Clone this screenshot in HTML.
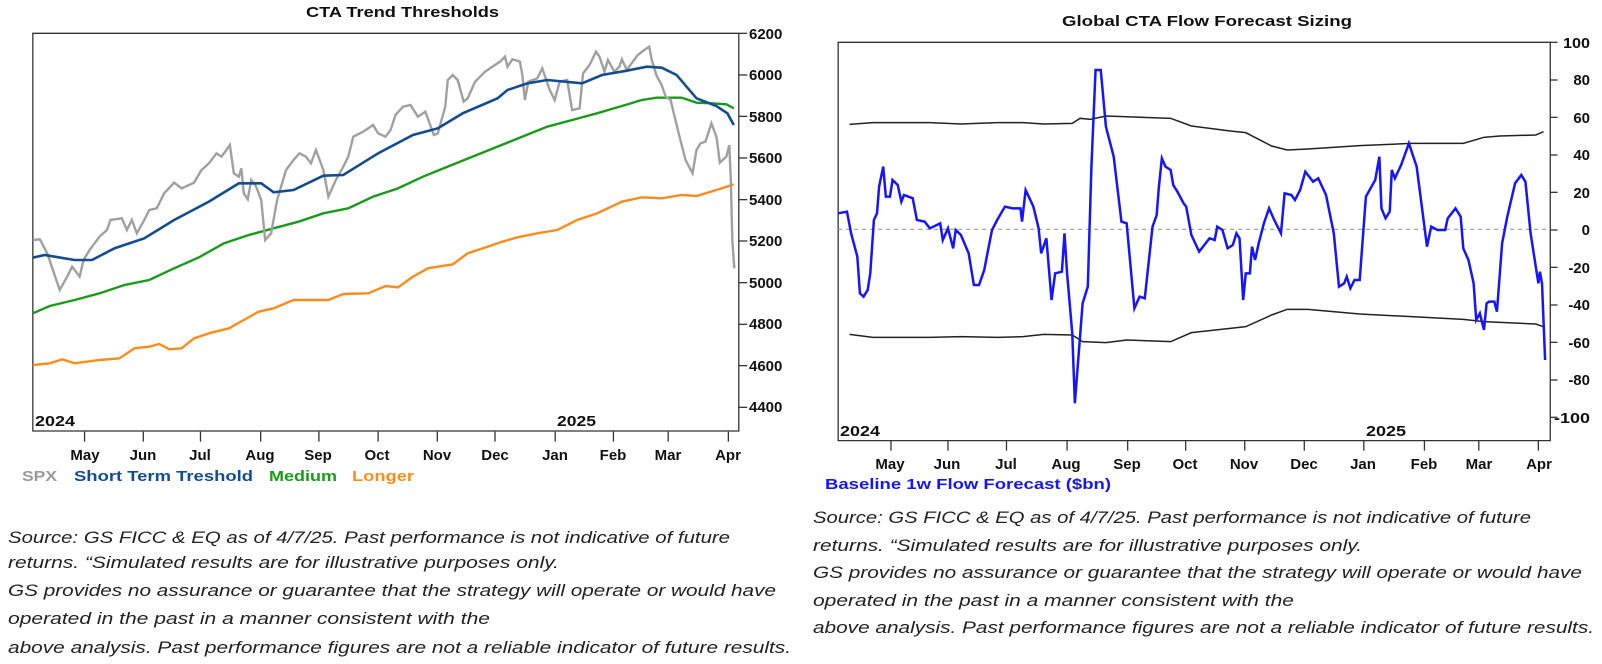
<!DOCTYPE html>
<html><head><meta charset="utf-8"><style>
html,body{margin:0;padding:0;background:#fff;}
svg{display:block;}
.t{font-family:"Liberation Sans Narrow","Liberation Sans",sans-serif;font-weight:bold;font-size:15px;fill:#111;}
.c{font-family:"Liberation Sans Narrow","Liberation Sans",sans-serif;font-style:italic;font-size:17px;fill:#222;}
path,polyline,line,rect{vector-effect:non-scaling-stroke;}
</style></head><body>
<svg width="1602" height="664" viewBox="0 0 1602 664" xmlns="http://www.w3.org/2000/svg">
<rect width="1602" height="664" fill="#fff"/>

<g transform="scale(0.4975,0.33333)" fill="none">
<rect x="66" y="100" width="1419" height="1193" stroke="#333" stroke-width="1.3"/>
<g stroke="#333" stroke-width="1.3">
<line x1="1485" y1="100" x2="1502" y2="100"/><line x1="1485" y1="225" x2="1502" y2="225"/><line x1="1485" y1="349" x2="1502" y2="349"/><line x1="1485" y1="474" x2="1502" y2="474"/><line x1="1485" y1="599" x2="1502" y2="599"/><line x1="1485" y1="723" x2="1502" y2="723"/><line x1="1485" y1="848" x2="1502" y2="848"/><line x1="1485" y1="973" x2="1502" y2="973"/><line x1="1485" y1="1097" x2="1502" y2="1097"/><line x1="1485" y1="1222" x2="1502" y2="1222"/>
<line x1="170" y1="1295" x2="170" y2="1325"/><line x1="288" y1="1295" x2="288" y2="1325"/><line x1="403" y1="1295" x2="403" y2="1325"/><line x1="524" y1="1295" x2="524" y2="1325"/><line x1="641" y1="1295" x2="641" y2="1325"/><line x1="760" y1="1295" x2="760" y2="1325"/><line x1="879" y1="1295" x2="879" y2="1325"/><line x1="995" y1="1295" x2="995" y2="1325"/><line x1="1116" y1="1295" x2="1116" y2="1325"/><line x1="1233" y1="1295" x2="1233" y2="1325"/><line x1="1343" y1="1295" x2="1343" y2="1325"/><line x1="1464" y1="1295" x2="1464" y2="1325"/>
</g>
<polyline stroke="#ff8c1a" stroke-width="2.4" points="66,1095 100,1090 125,1078 150,1090 200,1080 240,1075 270,1045 300,1040 320,1032 340,1048 365,1045 390,1015 420,1000 460,985 490,960 520,935 550,925 590,900 660,900 690,882 740,880 775,858 800,862 830,830 860,805 880,800 910,793 940,760 970,745 1010,725 1040,712 1080,700 1120,690 1160,660 1200,640 1250,605 1290,592 1330,595 1370,585 1400,588 1440,570 1475,553"/>
<polyline stroke="#1a9a1a" stroke-width="2.4" points="66,940 100,918 150,900 200,880 250,855 300,840 350,805 400,772 450,730 500,705 550,685 600,665 650,640 700,625 750,590 800,565 850,530 900,500 950,470 1000,440 1050,410 1100,380 1150,360 1200,340 1250,318 1290,300 1320,293 1370,293 1400,308 1430,310 1460,313 1475,325"/>
<polyline stroke="#a0a0a0" stroke-width="2.4" points="66,720 80,718 95,760 120,870 135,830 145,800 160,830 168,780 180,750 200,710 215,690 222,660 245,655 255,690 265,660 275,700 290,660 300,630 315,625 330,580 350,548 365,565 380,555 390,548 405,510 420,490 435,460 445,470 455,450 462,435 470,520 480,530 485,505 490,580 498,598 505,540 515,560 525,600 533,720 545,700 557,600 575,510 590,480 602,460 615,470 625,490 635,450 650,510 660,590 675,540 690,500 700,470 710,410 730,395 750,375 760,400 775,410 785,390 795,345 810,320 825,315 840,350 855,335 872,405 880,400 895,320 900,240 910,225 920,240 932,305 940,295 955,245 975,215 990,200 1005,185 1015,170 1020,200 1030,178 1045,185 1050,225 1055,300 1062,245 1080,235 1090,205 1105,270 1115,300 1125,245 1140,240 1150,330 1165,325 1172,220 1185,195 1198,155 1205,170 1215,215 1222,180 1235,215 1245,200 1250,178 1260,210 1272,185 1282,165 1295,150 1305,140 1310,180 1320,228 1330,255 1338,290 1348,300 1356,350 1365,405 1378,480 1392,520 1400,450 1408,430 1418,425 1430,370 1440,410 1447,488 1460,470 1466,435 1469,540 1472,720 1476,805"/>
<polyline stroke="#124d8f" stroke-width="2.6" points="66,773 90,765 110,770 150,780 185,780 230,745 290,715 350,660 420,605 480,550 525,550 550,577 590,570 650,527 690,525 760,460 830,405 880,385 930,340 1000,295 1020,270 1060,250 1100,240 1170,250 1210,225 1260,212 1300,200 1330,203 1360,225 1400,295 1440,318 1462,340 1475,375"/>
</g>
<g class="t">
<text x="306" y="17" textLength="193" lengthAdjust="spacingAndGlyphs">CTA Trend Thresholds</text>
<text x="749" y="39">6200</text><text x="749" y="80">6000</text><text x="749" y="122">5800</text><text x="749" y="163">5600</text><text x="749" y="205">5400</text><text x="749" y="246">5200</text><text x="749" y="288">5000</text><text x="749" y="329">4800</text><text x="749" y="371">4600</text><text x="749" y="412">4400</text>
<text x="35" y="426" textLength="40" lengthAdjust="spacingAndGlyphs">2024</text>
<text x="557" y="426" textLength="39" lengthAdjust="spacingAndGlyphs">2025</text>
<g text-anchor="middle"><text x="85" y="460">May</text><text x="143" y="460">Jun</text><text x="200" y="460">Jul</text><text x="260" y="460">Aug</text><text x="318" y="460">Sep</text><text x="377" y="460">Oct</text><text x="437" y="460">Nov</text><text x="495" y="460">Dec</text><text x="555" y="460">Jan</text><text x="613" y="460">Feb</text><text x="668" y="460">Mar</text><text x="728" y="460">Apr</text></g>
<text x="22" y="481" fill="#999" textLength="35" lengthAdjust="spacingAndGlyphs">SPX</text>
<text x="74" y="481" fill="#124d8f" textLength="179" lengthAdjust="spacingAndGlyphs">Short Term Treshold</text>
<text x="269" y="481" fill="#1a9a1a" textLength="68" lengthAdjust="spacingAndGlyphs">Medium</text>
<text x="352" y="481" fill="#ff8c1a" textLength="62" lengthAdjust="spacingAndGlyphs">Longer</text>
</g>

<g transform="translate(790,0) scale(0.5179,0.33333)" fill="none">
<rect x="93" y="127" width="1375" height="1195" stroke="#333" stroke-width="1.3"/>
<line x1="93" y1="688" x2="1468" y2="688" stroke="#999" stroke-width="1.2" stroke-dasharray="4,4"/>
<g stroke="#333" stroke-width="1.3">
<line x1="1468" y1="127" x2="1482" y2="127"/><line x1="1468" y1="240" x2="1482" y2="240"/><line x1="1468" y1="352" x2="1482" y2="352"/><line x1="1468" y1="465" x2="1482" y2="465"/><line x1="1468" y1="577" x2="1482" y2="577"/><line x1="1468" y1="690" x2="1482" y2="690"/><line x1="1468" y1="802" x2="1482" y2="802"/><line x1="1468" y1="915" x2="1482" y2="915"/><line x1="1468" y1="1027" x2="1482" y2="1027"/><line x1="1468" y1="1140" x2="1482" y2="1140"/><line x1="1468" y1="1252" x2="1482" y2="1252"/>
<line x1="195" y1="1322" x2="195" y2="1352"/><line x1="305" y1="1322" x2="305" y2="1352"/><line x1="418" y1="1322" x2="418" y2="1352"/><line x1="535" y1="1322" x2="535" y2="1352"/><line x1="652" y1="1322" x2="652" y2="1352"/><line x1="764" y1="1322" x2="764" y2="1352"/><line x1="878" y1="1322" x2="878" y2="1352"/><line x1="993" y1="1322" x2="993" y2="1352"/><line x1="1108" y1="1322" x2="1108" y2="1352"/><line x1="1225" y1="1322" x2="1225" y2="1352"/><line x1="1330" y1="1322" x2="1330" y2="1352"/><line x1="1445" y1="1322" x2="1445" y2="1352"/>
</g>
<polyline stroke="#222" stroke-width="1.5" points="115,373 160,368 270,368 330,372 400,368 450,368 490,372 545,370 560,355 580,358 610,348 735,355 775,378 850,393 880,398 930,438 960,450 1000,447 1100,437 1200,430 1300,430 1340,412 1370,408 1440,405 1455,395"/>
<polyline stroke="#222" stroke-width="1.5" points="115,1003 160,1012 270,1012 330,1010 400,1012 450,1010 490,1003 545,1005 565,1025 610,1028 650,1020 735,1025 775,998 850,985 880,980 930,945 960,928 1000,928 1100,942 1200,950 1300,958 1340,965 1440,972 1455,980"/>
<polyline stroke="#1515ff" stroke-width="2.5" points="93,640 110,635 118,700 130,770 135,880 142,890 150,870 155,820 162,660 168,640 172,560 180,500 185,590 193,590 198,540 208,555 215,605 220,585 237,595 245,660 260,665 270,685 290,670 295,720 305,685 315,745 320,690 330,705 345,760 355,855 365,855 375,810 390,690 400,660 415,620 430,625 445,625 448,665 455,570 470,620 480,685 485,760 495,715 505,900 512,820 525,815 530,700 535,820 545,1000 550,1210 558,1050 565,910 575,860 582,500 590,210 600,210 610,380 625,470 635,600 640,665 650,670 665,925 675,890 685,895 700,680 708,645 712,565 718,475 725,500 735,510 740,555 748,575 760,610 765,620 775,705 790,755 800,735 810,715 820,720 825,680 835,690 845,745 855,735 862,700 868,715 875,900 880,820 888,820 892,740 898,780 905,730 915,670 925,625 935,660 948,700 955,580 968,585 975,600 985,570 995,515 1010,545 1020,535 1035,585 1050,700 1060,860 1070,850 1075,830 1082,865 1090,840 1100,840 1112,590 1130,540 1138,470 1142,625 1150,655 1158,635 1162,510 1168,535 1180,495 1195,430 1210,500 1230,740 1238,680 1250,690 1265,690 1270,655 1285,625 1295,650 1300,745 1310,780 1320,850 1325,960 1332,940 1340,990 1345,910 1350,905 1360,905 1365,935 1375,730 1385,650 1400,550 1412,525 1420,545 1430,700 1440,800 1445,850 1448,815 1452,850 1458,1080"/>
</g>
<g class="t">
<text x="1062" y="26" textLength="290" lengthAdjust="spacingAndGlyphs">Global CTA Flow Forecast Sizing</text>
<g text-anchor="end"><text x="1590" y="48" textLength="27" lengthAdjust="spacingAndGlyphs">100</text><text x="1590" y="85">80</text><text x="1590" y="123">60</text><text x="1590" y="160">40</text><text x="1590" y="198">20</text><text x="1590" y="235">0</text><text x="1590" y="273">-20</text><text x="1590" y="310">-40</text><text x="1590" y="348">-60</text><text x="1590" y="385">-80</text><text x="1590" y="423" textLength="36" lengthAdjust="spacingAndGlyphs">-100</text></g>
<text x="840" y="436" textLength="40" lengthAdjust="spacingAndGlyphs">2024</text>
<text x="1366" y="436" textLength="40" lengthAdjust="spacingAndGlyphs">2025</text>
<g text-anchor="middle"><text x="890" y="469">May</text><text x="947" y="469">Jun</text><text x="1006" y="469">Jul</text><text x="1066" y="469">Aug</text><text x="1127" y="469">Sep</text><text x="1185" y="469">Oct</text><text x="1244" y="469">Nov</text><text x="1304" y="469">Dec</text><text x="1363" y="469">Jan</text><text x="1424" y="469">Feb</text><text x="1479" y="469">Mar</text><text x="1539" y="469">Apr</text></g>
<text x="825" y="489" fill="#1515ff" textLength="286" lengthAdjust="spacingAndGlyphs">Baseline 1w Flow Forecast ($bn)</text>
</g>

<g class="c">
<text x="8" y="543" textLength="722" lengthAdjust="spacingAndGlyphs">Source: GS FICC &amp; EQ as of 4/7/25. Past performance is not indicative of future</text>
<text x="8" y="568" textLength="551" lengthAdjust="spacingAndGlyphs">returns. “Simulated results are for illustrative purposes only.</text>
<text x="8" y="596" textLength="768" lengthAdjust="spacingAndGlyphs">GS provides no assurance or guarantee that the strategy will operate or would have</text>
<text x="8" y="624" textLength="482" lengthAdjust="spacingAndGlyphs">operated in the past in a manner consistent with the</text>
<text x="8" y="653" textLength="783" lengthAdjust="spacingAndGlyphs">above analysis. Past performance figures are not a reliable indicator of future results.</text>
<text x="813" y="523" textLength="718" lengthAdjust="spacingAndGlyphs">Source: GS FICC &amp; EQ as of 4/7/25. Past performance is not indicative of future</text>
<text x="813" y="551" textLength="549" lengthAdjust="spacingAndGlyphs">returns. “Simulated results are for illustrative purposes only.</text>
<text x="813" y="578" textLength="769" lengthAdjust="spacingAndGlyphs">GS provides no assurance or guarantee that the strategy will operate or would have</text>
<text x="813" y="606" textLength="481" lengthAdjust="spacingAndGlyphs">operated in the past in a manner consistent with the</text>
<text x="813" y="633" textLength="781" lengthAdjust="spacingAndGlyphs">above analysis. Past performance figures are not a reliable indicator of future results.</text>
</g>
</svg>
</body></html>
